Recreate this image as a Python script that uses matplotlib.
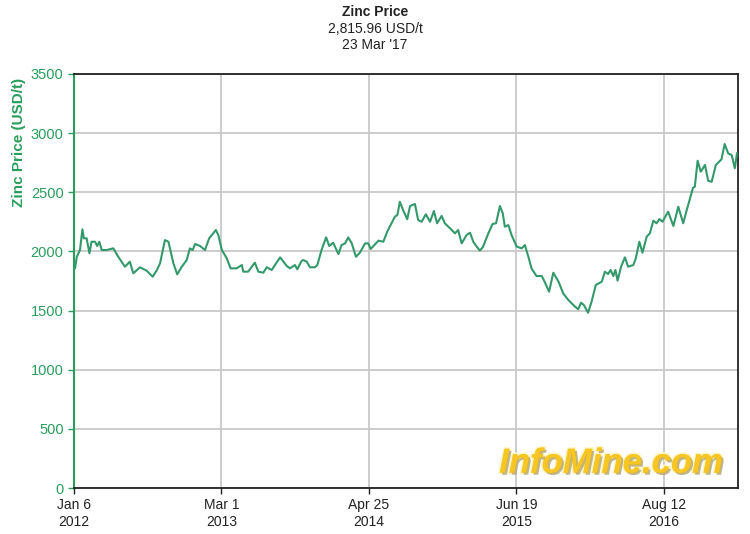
import matplotlib
matplotlib.use('Agg')
import matplotlib.pyplot as plt
import matplotlib.dates as mdates
import matplotlib.patheffects as pe
import numpy as np

# days since 2012-01-06 and zinc price (USD/t)
days = [3, 8, 17, 24, 28, 36, 44, 50, 60, 66, 72, 79, 93, 112, 126, 145, 159,
        169, 188, 207, 224, 235, 245, 259, 269, 283, 294, 307, 321, 330, 338,
        345, 359, 373, 385, 404, 411, 421, 435, 446, 463, 478, 482, 496, 515,
        525, 539, 549, 563, 587, 606, 615, 629, 636, 648, 653, 663, 672, 686,
        693, 705, 718, 727, 738, 753, 762, 772, 781, 791, 803, 814, 829, 838,
        845, 867, 881, 892, 914, 921, 928, 938, 949, 957, 971, 980, 990, 1002,
        1014, 1025, 1034, 1047, 1056, 1071, 1085, 1094, 1104, 1118, 1128, 1137,
        1147, 1156, 1165, 1180, 1192, 1202, 1213, 1221, 1227, 1237, 1246, 1261,
        1275, 1284, 1294, 1303, 1317, 1332, 1338, 1353, 1365, 1380, 1393, 1408,
        1427, 1436, 1444, 1452, 1464, 1474, 1486, 1503, 1512, 1521, 1528, 1536,
        1542, 1548, 1558, 1569, 1578, 1593, 1600, 1610, 1619, 1631, 1640, 1650,
        1659, 1667, 1676, 1692, 1707, 1721, 1735, 1745, 1763, 1768, 1776, 1785,
        1797, 1806, 1816, 1828, 1844, 1853, 1863, 1873, 1882, 1888]
price = [1860, 1955, 2012, 2187, 2111, 2111, 1984, 2082, 2082, 2046, 2082, 2012,
         2012, 2026, 1955, 1871, 1913, 1815, 1866, 1837, 1786, 1837, 1899, 2096,
         2082, 1899, 1806, 1871, 1927, 2026, 2012, 2063, 2046, 2012, 2111, 2181,
         2139, 2012, 1942, 1857, 1857, 1885, 1829, 1829, 1905, 1829, 1820, 1866,
         1843, 1950, 1877, 1857, 1885, 1849, 1919, 1927, 1913, 1866, 1866, 1885,
         2012, 2119, 2046, 2074, 1978, 2054, 2068, 2119, 2068, 1955, 1989, 2068,
         2068, 2021, 2091, 2082, 2167, 2294, 2308, 2420, 2344, 2272, 2384, 2401,
         2266, 2251, 2314, 2251, 2342, 2238, 2300, 2238, 2195, 2153, 2181, 2068,
         2139, 2158, 2082, 2040, 2006, 2040, 2153, 2232, 2238, 2384, 2322, 2209,
         2223, 2139, 2040, 2026, 2054, 1955, 1857, 1792, 1792, 1758, 1660, 1820,
         1744, 1646, 1589, 1533, 1511, 1567, 1547, 1482, 1575, 1716, 1744, 1829,
         1809, 1843, 1792, 1843, 1753, 1871, 1950, 1871, 1885, 1942, 2082, 1989,
         2125, 2153, 2260, 2238, 2274, 2251, 2336, 2215, 2378, 2238, 2350, 2539,
         2547, 2767, 2674, 2731, 2598, 2589, 2731, 2779, 2908, 2829, 2815, 2703,
         2829]

start = np.datetime64('2012-01-06')
dates = start + np.array(days).astype('timedelta64[D]')

tick_dates = ['2012-01-06', '2013-03-01', '2014-04-25', '2015-06-19', '2016-08-12']
tick_labels = ['Jan 6\n2012', 'Mar 1\n2013', 'Apr 25\n2014', 'Jun 19\n2015', 'Aug 12\n2016']
y_ticks = [0, 500, 1000, 1500, 2000, 2500, 3000, 3500]

green = '#2a9d5c'
line_green = '#33996a'

plt.rcParams['font.family'] = ['Liberation Sans', 'DejaVu Sans']

fig = plt.figure(figsize=(7.5, 5.34), dpi=100)
ax = fig.add_axes([74/750, 46/534, 664/750, 414/534])

ax.plot(dates, price, color=line_green, lw=1.5, zorder=3)

ax.set_xlim(np.datetime64('2012-01-06'), np.datetime64('2017-03-11'))
ax.set_ylim(0, 3500)
ax.set_yticks(y_ticks)
ax.set_xticks([mdates.datestr2num(d) for d in tick_dates])
ax.set_xticklabels(tick_labels, linespacing=1.25)
ax.grid(True, color='#c8c8c8', lw=1.3)
ax.set_axisbelow(True)

for s in ['top', 'right', 'bottom']:
    ax.spines[s].set_color('#222222')
    ax.spines[s].set_linewidth(1.3)
ax.spines['left'].set_color(green)
ax.spines['left'].set_linewidth(1.5)

ax.tick_params(axis='y', colors=green, labelsize=10.5, length=4, width=1)
ax.tick_params(axis='x', colors='#222222', labelsize=10, length=4, width=1)

ax.set_ylabel('Zinc Price (USD/t)', color=green, fontsize=11, fontweight='bold')
ax.yaxis.set_label_coords(-0.072, 0.835)

fig.text(0.5, 1 - 12/534, 'Zinc Price', ha='center', va='center',
         fontsize=10, fontweight='bold', color='#222222')
fig.text(0.5, 1 - 29/534, '2,815.96 USD/t', ha='center', va='center',
         fontsize=10, color='#222222')
fig.text(0.5, 1 - 45/534, "23 Mar '17", ha='center', va='center',
         fontsize=10, color='#222222')

# watermark
ax.text(0.978, 0.06, 'InfoMine.com', transform=ax.transAxes, ha='right',
        va='center', fontsize=25, fontweight='bold', fontstyle='italic',
        color='#f7c623', zorder=4,
        path_effects=[pe.withStroke(linewidth=2.5, foreground='#fff6c8'),
                      pe.SimplePatchShadow(offset=(1.5, -1.5), shadow_rgbFace='#9a8a50', alpha=0.6),
                      pe.Normal()])

fig.savefig('out.png', dpi=100)
